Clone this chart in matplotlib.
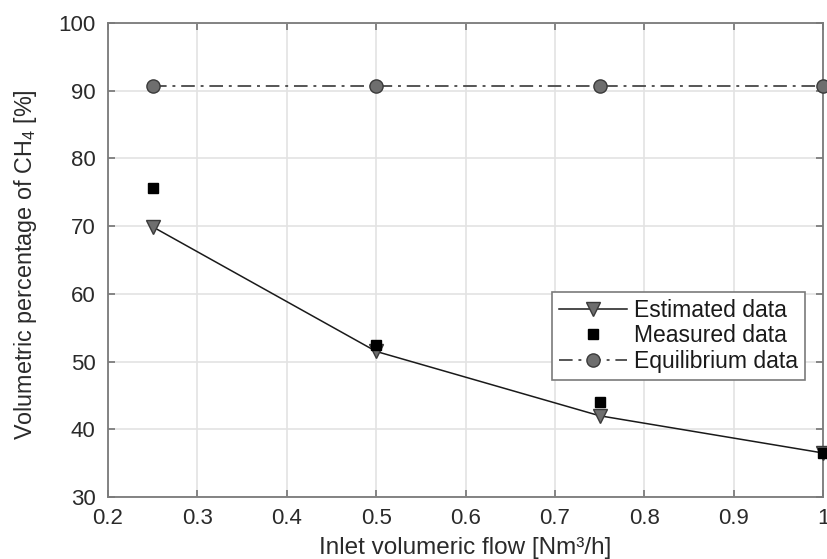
import matplotlib
matplotlib.use("Agg")
import matplotlib.pyplot as plt

# Inlet flow values and CH4 percentages
flow = [0.25, 0.5, 0.75, 1.0]
estimated = [69.9, 51.5, 42.0, 36.5]
measured = [75.6, 52.5, 44.0, 36.5]
equilibrium = [90.7, 90.7, 90.7, 90.7]

x_ticks = [0.2, 0.3, 0.4, 0.5, 0.6, 0.7, 0.8, 0.9, 1.0]
x_tick_labels = ["0.2", "0.3", "0.4", "0.5", "0.6", "0.7", "0.8", "0.9", "1"]
y_ticks = [30, 40, 50, 60, 70, 80, 90, 100]

plt.rcParams["font.family"] = ["Liberation Sans", "DejaVu Sans"]
plt.rcParams["mathtext.default"] = "regular"

fig = plt.figure(figsize=(8.28, 5.59), dpi=100)
ax = fig.add_axes([0.1304, 0.1109, 0.8636, 0.848])

gray = "#6e6e6e"
ax.plot(flow, estimated, color="#1a1a1a", lw=1.1, marker="v", ms=10,
        mfc=gray, mec="#3a3a3a", mew=1.0, label="Estimated data", clip_on=False, zorder=3)
ax.plot(flow, measured, ls="none", marker="s", ms=7.5, mfc="black", mec="black",
        label="Measured data", clip_on=False, zorder=4)
ax.plot(flow, equilibrium, color="#555555", lw=1.4, ls=(0, (7, 3, 1.5, 3)), marker="o",
        ms=9.5, mfc=gray, mec="#3a3a3a", mew=1.0, label="Equilibrium data", clip_on=False, zorder=3)

ax.set_xlim(0.2, 1.0)
ax.set_ylim(30, 100)
ax.set_xticks(x_ticks)
ax.set_xticklabels(x_tick_labels)
ax.set_yticks(y_ticks)

ax.grid(True, color="#e3e3e3", lw=1.2)
ax.set_axisbelow(True)
for s in ax.spines.values():
    s.set_color("#7a7a7a")
    s.set_linewidth(1.3)
ax.tick_params(direction="in", length=5, width=1.1, color="#6a6a6a",
               labelsize=16, labelcolor="#2a2a2a", top=True, right=True)
ax.tick_params(axis="x", pad=8)
ax.tick_params(axis="y", pad=9)

ax.set_xlabel("Inlet volumeric flow [Nm³/h]", fontsize=17.5, color="#2a2a2a", labelpad=6)
ax.set_ylabel("Volumetric percentage of CH$_4$ [%]", fontsize=16.8, color="#2a2a2a")
ax.yaxis.set_label_coords(-0.096, 0.49)

leg = ax.legend(loc="upper right", bbox_to_anchor=(0.975, 0.433), fontsize=16.5,
                frameon=True, fancybox=False, edgecolor="#7a7a7a", framealpha=1,
                handlelength=3.0, handletextpad=0.3, borderpad=0.3, labelspacing=0.12,
                borderaxespad=0)
leg.get_frame().set_linewidth(1.2)
for t in leg.get_texts():
    t.set_color("#1a1a1a")

fig.savefig("out.png", dpi=100)
